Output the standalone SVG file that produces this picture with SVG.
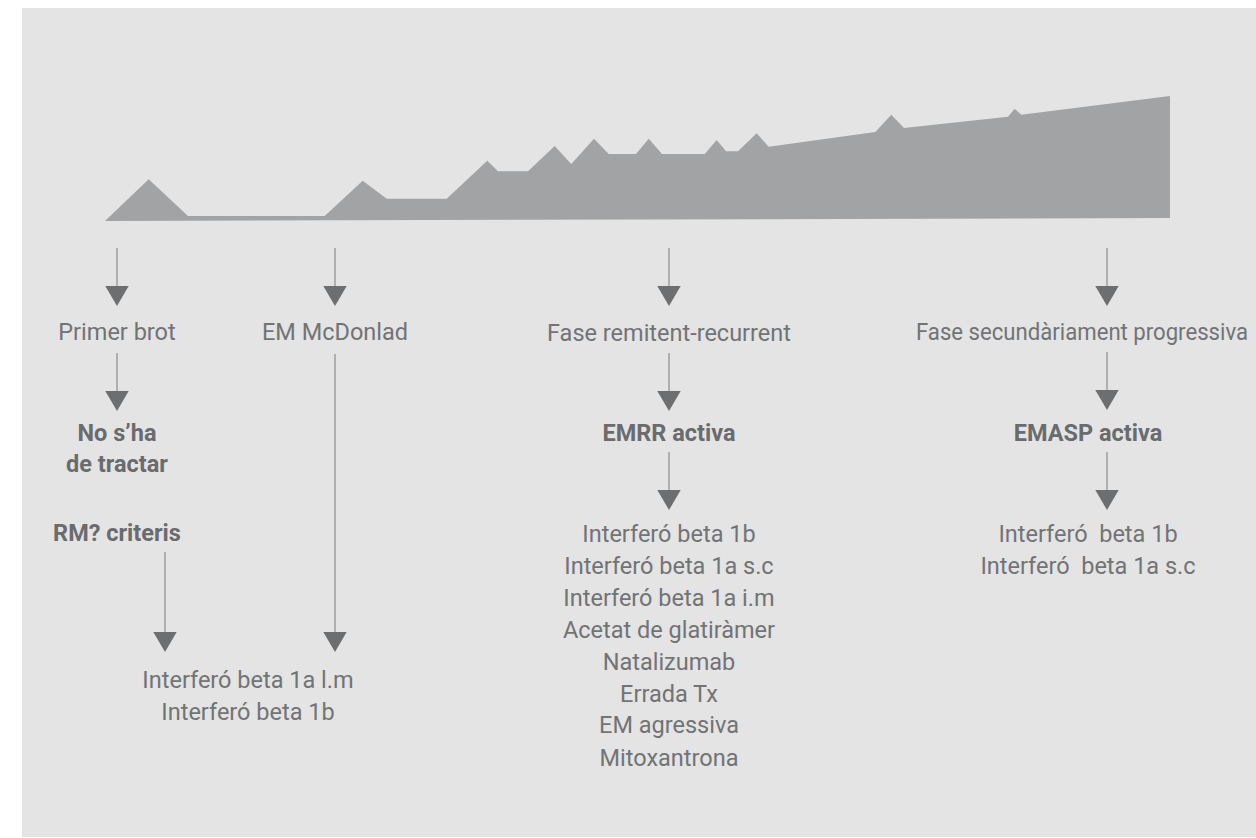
<svg xmlns="http://www.w3.org/2000/svg" width="1256" height="838" viewBox="0 0 1256 838">
<defs>
<style>
.t{font-family:Roboto,"Liberation Sans",sans-serif;font-size:23.5px;font-weight:400;fill:#727375;text-anchor:middle}
.b{font-family:Roboto,"Liberation Sans",sans-serif;font-size:23.5px;font-weight:700;fill:#6a6b6d;text-anchor:middle}
.ln{stroke:#8c8d8f;stroke-width:1.2;fill:none}
.ah{fill:#6d6e70}
</style>
</defs>
<rect x="0" y="0" width="1256" height="838" fill="#ffffff"/>
<rect x="22" y="8" width="1234" height="829" fill="#e3e4e3"/>
<g id="timeline">
<polygon fill="#a2a3a5" points="105,221 148.7,179.3 188,216 324.7,216 362.7,180.7 386.7,198.7 446.7,198.7 487.3,160.7 498,171.3 528,171.3 554.7,146 571.3,164 594,138.7 608.7,154 636,154 648.7,138.7 662,154 704.7,154 716.7,140 726,151.3 738,151.3 756.7,133.3 768.7,146.7 875.3,132 891.3,114.7 904,128 1008,116.7 1014.7,108.7 1021.3,114.7 1170,96 1170,218"/>
</g>
<g id="connectors">
<path class="ln" d="M117,248V287 M335,248V287 M669,248V287 M1107,248V287 M117,353V392 M335,354V633 M165,552V633 M669,353V392 M669,452V491 M1107,352V391 M1107,452V491"/>
<polygon class="ah" points="105.3,286 128.7,286 117,306"/>
<polygon class="ah" points="323.3,286 346.7,286 335,306"/>
<polygon class="ah" points="657.3,286 680.7,286 669,306"/>
<polygon class="ah" points="1095.3,286 1118.7,286 1107,306"/>
<polygon class="ah" points="105.3,391 128.7,391 117,411"/>
<polygon class="ah" points="323.3,632 346.7,632 335,652"/>
<polygon class="ah" points="153.3,632 176.7,632 165,652"/>
<polygon class="ah" points="657.3,391 680.7,391 669,411"/>
<polygon class="ah" points="657.3,490 680.7,490 669,510"/>
<polygon class="ah" points="1095.3,390 1118.7,390 1107,410"/>
<polygon class="ah" points="1095.3,490 1118.7,490 1107,510"/>
</g>
<g id="primer-brot"><text class="t" x="117" y="340">Primer brot</text></g>
<g id="em-mcdonlad"><text class="t" x="335" y="340">EM McDonlad</text></g>
<g id="fase-rr"><text class="t" x="669" y="340.5">Fase remitent-recurrent</text></g>
<g id="fase-sp"><text class="t" x="916" y="340" style="text-anchor:start" textLength="332" lengthAdjust="spacingAndGlyphs">Fase secundàriament progressiva</text></g>
<g id="no-tractar"><text class="b" x="117" y="441">No s’ha</text><text class="b" x="117" y="472">de tractar</text></g>
<g id="rm-criteris"><text class="b" x="117" y="541">RM? criteris</text></g>
<g id="emrr"><text class="b" x="669" y="440.5">EMRR activa</text></g>
<g id="emasp"><text class="b" x="1088" y="440.5">EMASP activa</text></g>
<g id="tract-1"><text class="t" x="248" y="687.5">Interferó beta 1a l.m</text><text class="t" x="248" y="720">Interferó beta 1b</text></g>
<g id="tract-rr">
<text class="t" x="669" y="542">Interferó beta 1b</text>
<text class="t" x="669" y="573.5">Interferó beta 1a s.c</text>
<text class="t" x="669" y="606">Interferó beta 1a i.m</text>
<text class="t" x="669" y="637.5">Acetat de glatiràmer</text>
<text class="t" x="669" y="669.5">Natalizumab</text>
<text class="t" x="669" y="701.5">Errada Tx</text>
<text class="t" x="669" y="733">EM agressiva</text>
<text class="t" x="669" y="765.5">Mitoxantrona</text>
</g>
<g id="tract-sp">
<text class="t" x="1088" y="542" xml:space="preserve">Interferó  beta 1b</text>
<text class="t" x="1088" y="573.5" xml:space="preserve">Interferó  beta 1a s.c</text>
</g>
</svg>
